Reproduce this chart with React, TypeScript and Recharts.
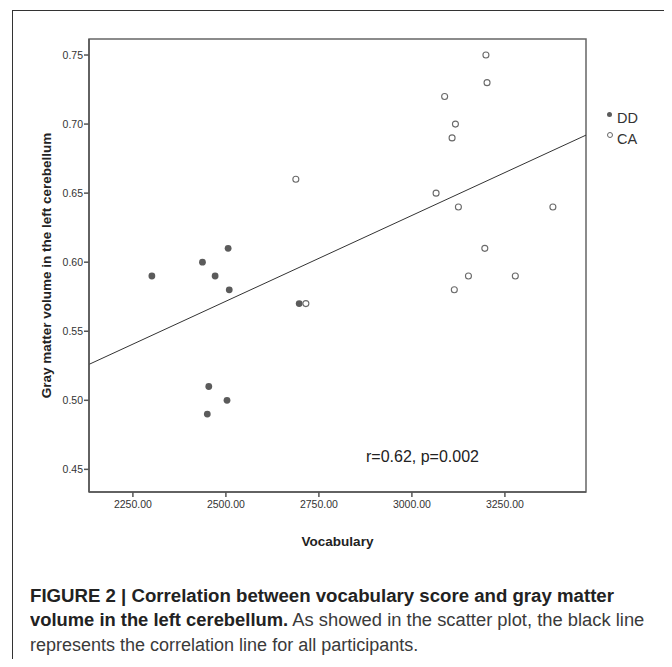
import React from 'react';
import {
  ScatterChart, Scatter, XAxis, YAxis, ReferenceLine, ReferenceArea,
} from 'recharts';

// DD group (filled) and CA group (open), vocabulary vs gray matter volume
const DD_VOCAB = [2301, 2437, 2471, 2506, 2509, 2697, 2454, 2450, 2503];
const DD_GMV = [0.59, 0.60, 0.59, 0.61, 0.58, 0.57, 0.51, 0.49, 0.50];

const CA_VOCAB = [3199, 3202, 3088, 3117, 3108, 3065, 3125, 3379, 3196, 3152, 3278, 3114, 2688, 2715];
const CA_GMV = [0.75, 0.73, 0.72, 0.70, 0.69, 0.65, 0.64, 0.64, 0.61, 0.59, 0.59, 0.58, 0.66, 0.57];

// fitted line end points (at the axis limits)
const FIT_VOCAB = [2132, 3468];
const FIT_GMV = [0.526, 0.692];

const X_TICKS = [2250, 2500, 2750, 3000, 3250];
const Y_TICKS = [0.45, 0.5, 0.55, 0.6, 0.65, 0.7, 0.75];

const dd = DD_VOCAB.map((x, i) => ({ x, y: DD_GMV[i] }));
const ca = CA_VOCAB.map((x, i) => ({ x, y: CA_GMV[i] }));
const fit = FIT_VOCAB.map((x, i) => ({ x, y: FIT_GMV[i] }));

const SANS = '"Liberation Sans", Arial, sans-serif';

const filledDot = (p: any) => <circle cx={p.cx} cy={p.cy} r={3.4} fill="#5b5b5b" />;
const openDot = (p: any) => (
  <circle cx={p.cx} cy={p.cy} r={3} fill="#fff" stroke="#6a6a6a" strokeWidth={1.1} />
);

const line = (sx: number): React.CSSProperties => ({
  whiteSpace: 'nowrap', transform: `scaleX(${sx})`, transformOrigin: 'left center', height: 24.5,
});

export default function App() {
  const tickStyle = { fontSize: 10.5, fill: '#333', fontFamily: SANS };
  return (
    <div style={{ position: 'relative', width: 672, height: 667, margin: -8, background: '#fff', overflow: 'hidden' }}>
      <div style={{ position: 'absolute', left: 12, top: 10, width: 657, height: 700, border: '1px solid #333' }} />
      <ScatterChart
        width={672}
        height={560}
        margin={{ top: 39, right: 86, bottom: 8, left: 0 }}
        style={{ position: 'absolute', left: 0, top: 0 }}
      >
        <XAxis
          type="number"
          dataKey="x"
          domain={[2132, 3468]}
          ticks={X_TICKS}
          tickFormatter={(v) => v.toFixed(2)}
          tick={tickStyle}
          tickSize={5}
          tickMargin={4}
          height={60}
          stroke="#555"
          strokeWidth={1.5}
          label={{
            value: 'Vocabulary', position: 'insideBottom', offset: 6,
            style: { fontSize: 13.5, fontWeight: 'bold', fill: '#222', fontFamily: SANS },
          }}
        />
        <YAxis
          type="number"
          dataKey="y"
          domain={[0.4336, 0.7616]}
          ticks={Y_TICKS}
          tickFormatter={(v) => v.toFixed(2)}
          tick={tickStyle}
          tickSize={5}
          tickMargin={1}
          width={89}
          stroke="#555"
          strokeWidth={1.5}
          label={{
            value: 'Gray matter volume in the left cerebellum', angle: -90, position: 'center', dx: 2,
            style: { fontSize: 13.5, fontWeight: 'bold', fill: '#222', fontFamily: SANS, textAnchor: 'middle' },
          }}
        />
        <ReferenceArea
          x1={2132} x2={3468} y1={0.4336} y2={0.7616}
          fill="none" stroke="#666" strokeWidth={1.5} ifOverflow="visible"
        />
        <ReferenceLine
          segment={[fit[0], fit[1]]}
          stroke="#333"
          strokeWidth={1}
          ifOverflow="visible"
        />
        <Scatter data={dd} shape={filledDot} isAnimationActive={false} />
        <Scatter data={ca} shape={openDot} isAnimationActive={false} />
      </ScatterChart>

      <div style={{ position: 'absolute', left: 366, top: 448, fontFamily: SANS, fontSize: 16, color: '#222' }}>
        r=0.62, p=0.002
      </div>

      <div style={{ position: 'absolute', left: 607, top: 108, fontFamily: SANS, fontSize: 14.5, color: '#333', lineHeight: '21px' }}>
        <div><span style={{ display: 'inline-block', width: 5, height: 5, borderRadius: 3, background: '#5b5b5b', verticalAlign: 6, marginRight: 5 }} />DD</div>
        <div><span style={{ display: 'inline-block', width: 4, height: 4, borderRadius: 3, border: '1px solid #666', verticalAlign: 6, marginRight: 4 }} />CA</div>
      </div>

      <div style={{ position: 'absolute', left: 30, top: 583.5, fontFamily: SANS, fontSize: 18, lineHeight: '24.5px', color: '#3a3a3a' }}>
        <div style={line(1.035)}><b style={{ color: '#222' }}>FIGURE 2 | Correlation between vocabulary score and gray matter</b></div>
        <div style={line(1.02)}><b style={{ color: '#222' }}>volume in the left cerebellum.</b> As showed in the scatter plot, the black line</div>
        <div style={line(1.0)}>represents the correlation line for all participants.</div>
      </div>
    </div>
  );
}
